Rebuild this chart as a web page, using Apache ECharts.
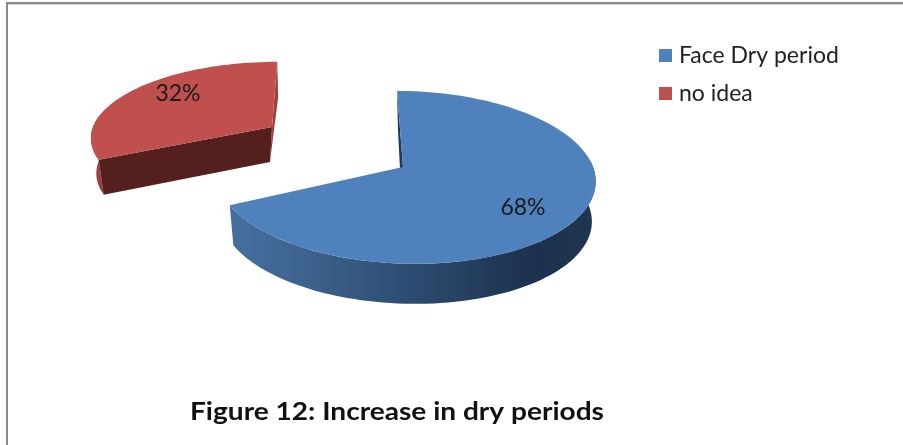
<!DOCTYPE html>
<html>
<head>
<meta charset="utf-8">
<style>html,body{margin:0;padding:0;background:#fff}#chart{width:903px;height:445px}</style>
<script src="https://cdn.jsdelivr.net/npm/echarts@6/dist/echarts.min.js"></script>
</head>
<body>
<div id="chart"></div>
<script>
// Survey answers, in percent
const categories = ['Face Dry period', 'no idea'];
const shares = [68, 32];
const titleText = 'Figure 12: Increase in dry periods';

// Tilted-disc projection shared by both slices
const perspective = 0.12;
const TOTAL = shares.reduce((a, b) => a + b, 0);

// Where each slice sits on the page, and how it is shaded
const slices = [
  {
    hub: [403, 167], rim: [405, 167], rx: 188, ry: 85.2, shear: 0.105, depth: 40, bottomScale: 0.98,
    top: '#4f81bd', startFace: '#1e3a5c', endFace: null, sideFrom: 85, sideTo: null,
    startFoot: [1, -1], endFoot: [0, 0],
    label: [523, 208],
    side: [[0, '#466fa0'], [0.17, '#3f6591'], [0.45, '#2f4f76'], [0.83, '#1c314c'], [1, '#1f3650']]
  },
  {
    hub: [272, 127], rim: [272, 127], rx: 179, ry: 73, shear: -0.08, depth: 35, bottomScale: 0.97,
    top: '#c0504d', startFace: '#54201e', endFace: '#a0403e', sideFrom: null, sideTo: 280,
    startFoot: [5, -2], endFoot: [1, -2],
    label: [178, 94],
    side: [[0, '#a0403e'], [1, '#a0403e']]
  }
];

function rimPoint(view, deg, scale, drop) {
  const t = deg * Math.PI / 180;
  const u = Math.sin(t), v = -Math.cos(t), w = 1 - perspective * v;
  return [
    view.rim[0] + scale * view.rx * u / w + view.shear * view.ry * v / w,
    view.rim[1] + view.ry * v / w + drop
  ];
}

function arc(view, from, to, scale, drop) {
  const pts = [];
  const n = Math.max(2, Math.ceil(Math.abs(to - from) / 2));
  for (let i = 0; i <= n; i++) pts.push(rimPoint(view, from + (to - from) * i / n, scale, drop));
  return pts;
}

function renderSlice(params, api) {
  const idx = params.seriesIndex;
  const view = slices[idx];
  const value = api.value(0);
  let before = 0;
  for (let i = 0; i < idx; i++) before += shares[i];
  const start = before / TOTAL * 360;
  const end = start + value / TOTAL * 360;
  const hub = view.hub, d = view.depth;
  const children = [];
  const poly = (points, fill) => children.push({
    type: 'polygon', shape: { points }, style: { fill, stroke: null }
  });

  // Curved outer side
  const sFrom = view.sideFrom !== null ? view.sideFrom : start;
  const sTo = view.sideTo !== null ? view.sideTo : end;
  const sideTop = arc(view, sFrom, sTo, 1, 0);
  const sideBottom = arc(view, sFrom, sTo, view.bottomScale, d).reverse();
  poly(sideTop.concat(sideBottom), new echarts.graphic.LinearGradient(0, 0, 1, 0,
    view.side.map(s => ({ offset: s[0], color: s[1] }))));

  // Flat cut faces, running from the rim in to the hub
  const a = rimPoint(view, start, 1, 0), b = rimPoint(view, end, 1, 0);
  if (view.endFace) {
    poly([b, [b[0] + view.endFoot[0], b[1] + d], [hub[0] + view.endFoot[1], hub[1] + d], hub], view.endFace);
  }
  poly([a, [a[0] + view.startFoot[0], a[1] + d], [hub[0] + view.startFoot[1], hub[1] + d], hub], view.startFace);

  // Top face
  poly([hub].concat(arc(view, start, end, 1, 0)), view.top);

  children.push({
    type: 'text',
    style: {
      x: view.label[0], y: view.label[1], text: value + '%',
      fill: '#1a1a1a', font: '23px Lato', align: 'center', verticalAlign: 'middle'
    }
  });
  return { type: 'group', children };
}

const chart = echarts.init(document.getElementById('chart'), null, { renderer: 'canvas' });
chart.setOption({
  animation: false,
  backgroundColor: '#ffffff',
  legend: {
    orient: 'vertical', left: 654, top: 39, icon: 'rect', itemWidth: 13, itemHeight: 13, itemGap: 15,
    selectedMode: false,
    textStyle: { fontFamily: 'Lato', fontSize: 23, color: '#222222', padding: [0, 0, 0, 2] },
    data: categories
  },
  graphic: [
    { type: 'rect', shape: { x: 6, y: 2, width: 897, height: 2 }, style: { fill: '#8a8a8a' } },
    { type: 'rect', shape: { x: 8, y: 4, width: 895, height: 1 }, style: { fill: '#d2d2d2' } },
    { type: 'rect', shape: { x: 6, y: 2, width: 2, height: 443 }, style: { fill: '#8a8a8a' } },
    {
      type: 'text', x: 190, y: 412, scaleX: 1.17,
      style: {
        text: titleText, fill: '#111111', font: 'bold 24px Lato',
        align: 'left', verticalAlign: 'middle'
      }
    }
  ],
  series: categories.map((name, i) => ({
    type: 'custom',
    name,
    coordinateSystem: 'none',
    itemStyle: { color: slices[i].top },
    renderItem: renderSlice,
    data: [[shares[i]]]
  }))
});
</script>
</body>
</html>
